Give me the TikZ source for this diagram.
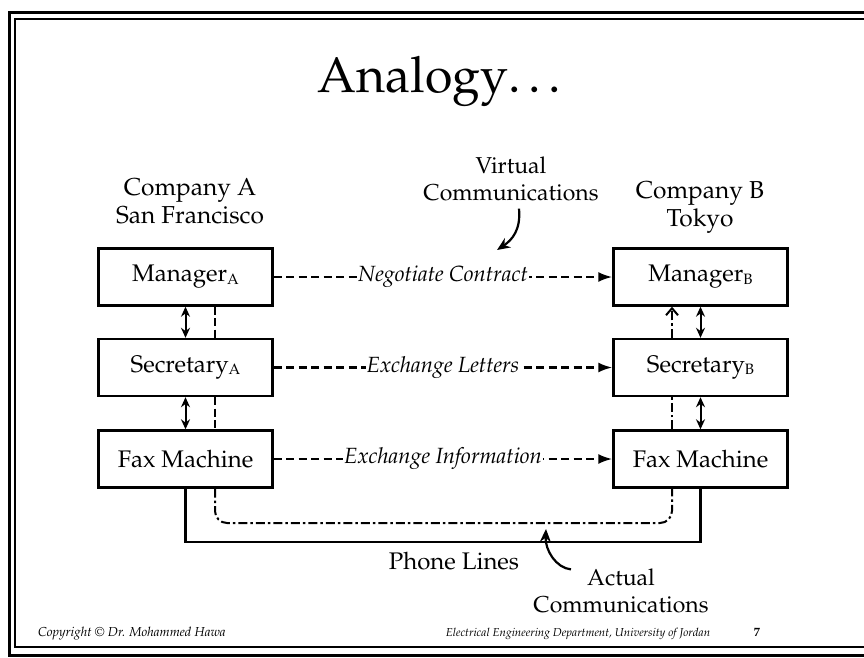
\documentclass[tikz,border=0pt]{standalone}
\usepackage[T1]{fontenc}
\renewcommand{\rmdefault}{ppl}
\usetikzlibrary{arrows.meta}
\newcommand{\subA}[1]{\raisebox{-2.5pt}{\fontsize{15}{15}\selectfont #1}}
\begin{document}
\begin{tikzpicture}[x=1pt,y=-1pt,
  layerbox/.style={draw, line width=2.4pt, minimum width=174pt, minimum height=57pt,
    inner sep=0pt, font=\fontsize{24}{26}\selectfont},
  plain/.style={font=\fontsize{23}{27}\selectfont, align=center},
  ilabel/.style={fill=white, inner sep=1pt, font=\itshape\fontsize{22}{24}\selectfont},
  peer/.style={line width=2.2pt, dash pattern=on 8pt off 4.5pt, -{Latex[length=14pt,width=10pt]}},
  updown/.style={line width=2pt, {Stealth[length=10pt,width=9pt]}-{Stealth[length=10pt,width=9pt]}},
  vdash/.style={line width=2pt, dash pattern=on 8pt off 3.5pt},
  dashdot/.style={line width=2pt, dash pattern=on 9pt off 3pt on 2.5pt off 3pt},
  callout/.style={line width=2.2pt, -{Stealth[length=13pt,width=11pt]}},
  foot/.style={font=\itshape\fontsize{13}{15}\selectfont, anchor=base}]
\useasboundingbox (0,0) rectangle (864,657);

% slide frame (double rule, open on the right)
\draw[line width=3pt] (880,12) -- (9,12) -- (9,655) -- (880,655);
\draw[line width=2pt] (880,19) -- (15,19) -- (15,647) -- (880,647);

% title
\node[anchor=base, font=\fontsize{50}{58}\selectfont] (title) at (443,92) {Analogy\ldots};

% company headings
\node[plain, font=\fontsize{24.5}{28}\selectfont] (ca) at (190,201) {Company A\\San Francisco};
\node[plain, font=\fontsize{24.5}{28}\selectfont] (cb) at (700,207) {Company B\\Tokyo};
\node[plain] (vc) at (511,179) {Virtual\\Communications};

% layer boxes
\node[layerbox] (ma) at (185.5,277) {Manager\subA{A}};
\node[layerbox] (sa) at (185.5,367.5) {Secretary\subA{A}};
\node[layerbox] (fa) at (185.5,459) {Fax Machine};
\node[layerbox] (mb) at (700.5,277) {Manager\subA{B}};
\node[layerbox] (sb) at (700.5,367.5) {Secretary\subA{B}};
\node[layerbox] (fb) at (700.5,459) {Fax Machine};

% peer-to-peer virtual links
\draw[peer] (ma.east) -- node[ilabel] {Negotiate Contract} (mb.west);
\draw[peer] (sa.east) -- node[ilabel] {Exchange Letters} (sb.west);
\draw[peer] (fa.east) -- node[ilabel] {Exchange Information} (fb.west);

% interfaces between adjacent layers
\draw[updown] (ma.south) -- (sa.north);
\draw[updown] (sa.south) -- (fa.north);
\draw[updown] (mb.south) -- (sb.north);
\draw[updown] (sb.south) -- (fb.north);

% actual communication path
\draw[vdash] ([xshift=29.5pt]ma.south) -- ([xshift=29.5pt]sa.north);
\draw[vdash] ([xshift=29.5pt]sa.south) -- ([xshift=29.5pt]fa.north);
\coordinate (dl) at (215,523);
\coordinate (dr) at (672,523);
\draw[dashdot, rounded corners=12pt] ([xshift=29.5pt]fa.south) -- (dl) -- (dr) -- ([xshift=-28.5pt]fb.south);
\draw[dashdot] ([xshift=-28.5pt]fb.north) -- ([xshift=-28.5pt]sb.south);
\draw[dashdot, -{Straight Barb[length=7pt,width=12pt]}] ([xshift=-28.5pt]sb.north) -- ([xshift=-28.5pt]mb.south);

% phone lines
\coordinate (pl) at (185.5,542);
\coordinate (pr) at (700.5,542);
\draw[line width=2.6pt] (fa.south) -- (pl) -- (pr) -- (fb.south);
\node[plain, font=\fontsize{24}{28}\selectfont] (phone) at (454,561) {Phone Lines};

% callouts
\node[plain] (ac) at (621,591) {Actual\\Communications};
\coordinate (vtip) at (497,250);
\coordinate (atip) at (546,529);
\draw[callout] ([xshift=8pt,yshift=-4pt]vc.south) .. controls (521,230) and (512,240) .. (vtip);
\draw[callout] ([xshift=-50pt,yshift=-4pt]ac.north) .. controls (556,568) and (545,550) .. (atip);

% footer
\node[foot] (copy) at (132,636) {Copyright \textcopyright{} Dr. Mohammed Hawa};
\node[foot, font=\itshape\fontsize{11.5}{13}\selectfont] (dept) at (578,636) {Electrical Engineering Department, University of Jordan};
\node[foot, font=\bfseries\fontsize{12.5}{14}\selectfont] (page) at (757,636) {7};
\end{tikzpicture}
\end{document}
